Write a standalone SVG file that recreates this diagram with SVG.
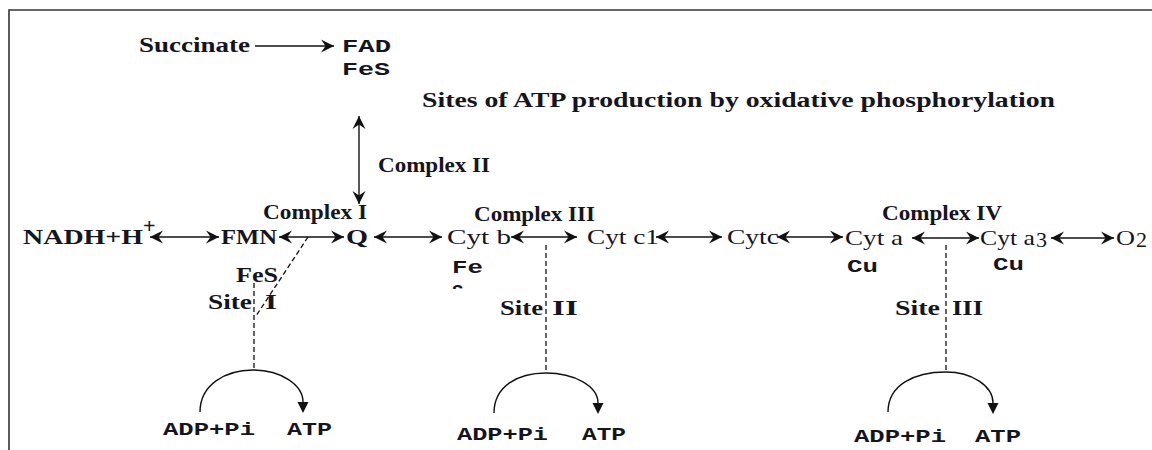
<svg xmlns="http://www.w3.org/2000/svg" width="1152" height="450" viewBox="0 0 1152 450">
<style>
.t{font-family:"Liberation Serif","Times New Roman",serif;font-weight:bold;font-size:20px;fill:#15151f}
.r{font-family:"Liberation Serif","Times New Roman",serif;font-size:22px;fill:#15151f}
.rb{font-family:"Liberation Serif","Times New Roman",serif;font-weight:bold;font-size:22px;fill:#15151f}
.m{font-family:"Liberation Mono","Courier New",monospace;font-weight:bold;font-size:19px;fill:#15151f}
.ln{stroke:#111;stroke-width:1.4;fill:none}
.dl{stroke:#111;stroke-width:1.3;fill:none;stroke-dasharray:5 3}
</style>
<defs>
<marker id="ah" viewBox="0 0 10 10" refX="10" refY="5" markerWidth="13" markerHeight="15" markerUnits="userSpaceOnUse" orient="auto-start-reverse">
<path d="M0,0 L10,5 L0,10 L3.5,5 Z" fill="#111"/>
</marker>
<marker id="tri" viewBox="0 0 10 10" refX="0" refY="5" markerWidth="11" markerHeight="12" markerUnits="userSpaceOnUse" orient="auto">
<path d="M0,0 L10,5 L0,10 Z" fill="#111"/>
</marker>
<clipPath id="cutS"><rect x="448" y="280" width="30" height="9"/></clipPath>
</defs>
<rect width="1152" height="450" fill="#fff"/>
<path d="M9,450 V10 H1152" fill="none" stroke="#333" stroke-width="1.6"/>

<g id="connectors">
<line class="ln" x1="255" y1="46" x2="334" y2="46" marker-end="url(#ah)"/>
<line class="ln" x1="359" y1="116" x2="359" y2="204" marker-start="url(#ah)" marker-end="url(#ah)"/>
<line class="ln" x1="150" y1="237" x2="219" y2="237" marker-start="url(#ah)" marker-end="url(#ah)"/>
<line class="ln" x1="279" y1="237" x2="344" y2="237" marker-start="url(#ah)" marker-end="url(#ah)"/>
<line class="ln" x1="374" y1="237" x2="442" y2="237" marker-start="url(#ah)" marker-end="url(#ah)"/>
<line class="ln" x1="511" y1="237" x2="577" y2="237" marker-start="url(#ah)" marker-end="url(#ah)"/>
<line class="ln" x1="656" y1="237" x2="722" y2="237" marker-start="url(#ah)" marker-end="url(#ah)"/>
<line class="ln" x1="777" y1="237" x2="843" y2="237" marker-start="url(#ah)" marker-end="url(#ah)"/>
<line class="ln" x1="912" y1="238" x2="979" y2="238" marker-start="url(#ah)" marker-end="url(#ah)"/>
<line class="ln" x1="1051" y1="238" x2="1114" y2="238" marker-start="url(#ah)" marker-end="url(#ah)"/>
<line class="dl" x1="308" y1="237" x2="256" y2="316"/>
<line class="dl" x1="254" y1="283" x2="254" y2="370"/>
<line class="dl" x1="546" y1="245" x2="546" y2="373"/>
<line class="dl" x1="946" y1="245" x2="946" y2="372"/>
<path class="ln" d="M200,412 C200,385 225,370 253,370 C281,370 303,385 303,402" marker-end="url(#tri)"/>
<path class="ln" d="M494,413 C494,386 518,373 546,373 C574,373 598,386 598,403" marker-end="url(#tri)"/>
<path class="ln" d="M888,412 C888,385 914,372 946,372 C972,372 993,386 993,403" marker-end="url(#tri)"/>
</g>

<g id="title"><text class="t" x="422" y="107" font-size="21" textLength="633" lengthAdjust="spacingAndGlyphs">Sites of ATP production by oxidative phosphorylation</text></g>
<g id="succinate"><text class="t" x="139" y="52" font-size="21" textLength="111" lengthAdjust="spacingAndGlyphs">Succinate</text></g>
<g id="fad"><text class="m" x="342" y="52" textLength="49" lengthAdjust="spacingAndGlyphs">FAD</text><text class="m" x="342" y="75" textLength="48" lengthAdjust="spacingAndGlyphs">FeS</text></g>
<g id="complex2"><text class="t" x="378" y="172" textLength="112" lengthAdjust="spacingAndGlyphs">Complex II</text></g>
<g id="complex1"><text class="t" x="263" y="219" textLength="104" lengthAdjust="spacingAndGlyphs">Complex I</text></g>
<g id="complex3"><text class="t" x="474" y="221" textLength="121" lengthAdjust="spacingAndGlyphs">Complex III</text></g>
<g id="complex4"><text class="t" x="882" y="220" textLength="120" lengthAdjust="spacingAndGlyphs">Complex IV</text></g>

<g id="nadh"><text class="rb" x="23" y="244" textLength="120" lengthAdjust="spacingAndGlyphs">NADH+H</text><text class="rb" x="143" y="233" font-size="12">+</text></g>
<g id="fmn"><text class="rb" x="221" y="244" textLength="56" lengthAdjust="spacingAndGlyphs">FMN</text>
<text class="t" x="236" y="282" font-size="21" textLength="42" lengthAdjust="spacingAndGlyphs">FeS</text></g>
<g id="q"><text class="rb" x="346" y="244" textLength="22" lengthAdjust="spacingAndGlyphs">Q</text></g>
<g id="cytb"><text class="r" x="447" y="244" textLength="64" lengthAdjust="spacingAndGlyphs">Cyt b</text>
<text class="m" x="452" y="273" textLength="31" lengthAdjust="spacingAndGlyphs">Fe</text>
<text class="m" x="452" y="297" clip-path="url(#cutS)">S</text></g>
<g id="cytc1"><text class="r" x="587" y="244" textLength="72" lengthAdjust="spacingAndGlyphs">Cyt c1</text></g>
<g id="cytc"><text class="r" x="727" y="244" textLength="52" lengthAdjust="spacingAndGlyphs">Cytc</text></g>
<g id="cyta"><text class="r" x="845" y="245" textLength="58" lengthAdjust="spacingAndGlyphs">Cyt a</text>
<text class="m" x="847" y="272" textLength="31" lengthAdjust="spacingAndGlyphs">Cu</text></g>
<g id="cyta3"><text class="r" x="980" y="245" textLength="55" lengthAdjust="spacingAndGlyphs">Cyt a</text><text class="r" x="1036" y="247" font-size="15">3</text>
<text class="m" x="993" y="270" textLength="31" lengthAdjust="spacingAndGlyphs">Cu</text></g>
<g id="o2"><text class="r" x="1116" y="245" textLength="19" lengthAdjust="spacingAndGlyphs">O</text><text class="r" x="1136" y="247" font-size="16">2</text></g>

<g id="site1"><text class="t" x="208" y="309" font-size="21" textLength="44" lengthAdjust="spacingAndGlyphs">Site</text><text class="t" x="265" y="309" font-size="21" textLength="12" lengthAdjust="spacingAndGlyphs">I</text>
<text class="m" x="163" y="435" textLength="92" lengthAdjust="spacingAndGlyphs">ADP+Pi</text><text class="m" x="287" y="435" textLength="45" lengthAdjust="spacingAndGlyphs">ATP</text></g>
<g id="site2"><text class="t" x="500" y="315" font-size="21" textLength="43" lengthAdjust="spacingAndGlyphs">Site</text><text class="t" x="552" y="315" font-size="21" textLength="26" lengthAdjust="spacingAndGlyphs">II</text>
<text class="m" x="457" y="440" textLength="91" lengthAdjust="spacingAndGlyphs">ADP+Pi</text><text class="m" x="582" y="440" textLength="44" lengthAdjust="spacingAndGlyphs">ATP</text></g>
<g id="site3"><text class="t" x="895" y="315" font-size="21" textLength="45" lengthAdjust="spacingAndGlyphs">Site</text><text class="t" x="952" y="315" font-size="21" textLength="31" lengthAdjust="spacingAndGlyphs">III</text>
<text class="m" x="854" y="442" textLength="92" lengthAdjust="spacingAndGlyphs">ADP+Pi</text><text class="m" x="975" y="442" textLength="46" lengthAdjust="spacingAndGlyphs">ATP</text></g>
</svg>
